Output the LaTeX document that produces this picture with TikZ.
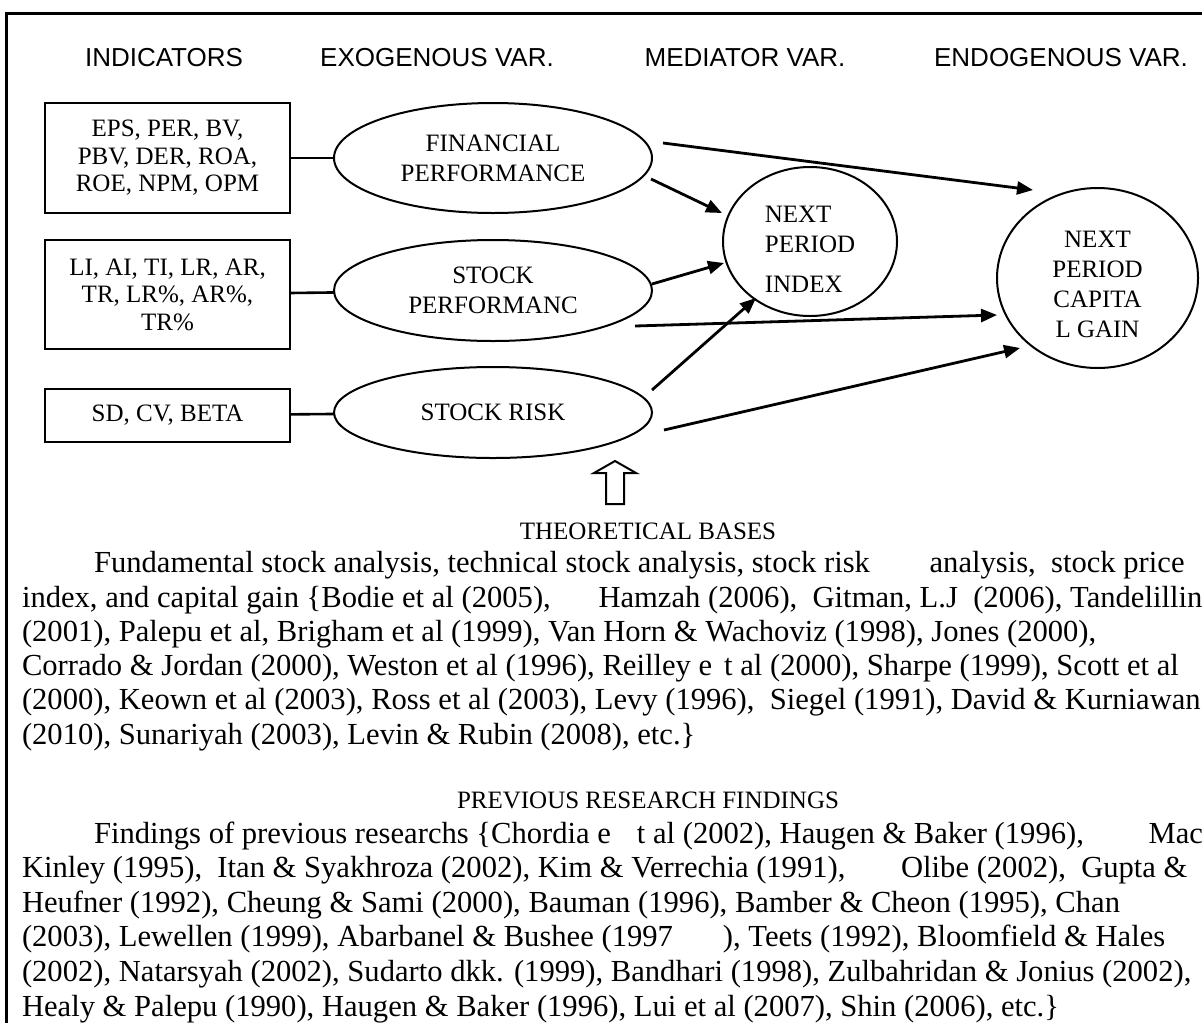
\documentclass[tikz,border=0pt]{standalone}
\usepackage{fontspec}
\setmainfont{Liberation Serif}
\newfontfamily\headfont{Liberation Sans}
\usetikzlibrary{shapes.geometric, arrows.meta, calc, positioning}

\begin{document}
\begin{tikzpicture}[x=0.5pt, y=-0.5pt, >={Triangle[length=8pt, width=6.5pt]},
    every node/.style={align=center, inner sep=0pt, outer sep=0pt},
    varhead/.style={font=\headfont\fontsize{13}{15}\selectfont},
    indbox/.style={draw, line width=1pt, minimum width=122.5pt,
        font=\fontsize{12.5}{13.75}\selectfont},
    varoval/.style={ellipse, draw, line width=1pt, minimum width=159pt,
        font=\fontsize{12.5}{15}\selectfont},
    target/.style={ellipse, draw, line width=1pt},
    inner/.style={font=\fontsize{12.5}{15}\selectfont, label distance=0pt},
    link/.style={line width=1.3pt},
    effect/.style={->, line width=1.4pt},
    sechead/.style={anchor=base, font=\fontsize{12.5}{14}\selectfont},
    para/.style={anchor=base west, font=\fontsize{15.3}{17}\selectfont}]

    \useasboundingbox (0,0) rectangle (1202,1023);
    \clip (0,0) rectangle (1202,1023);

    % outer frame (only top and left edge in view)
    \draw[line width=1.5pt] (6,1023) -- (6,13) -- (1202,13);

    % column heads
    \node[varhead] (hind) at (164,58) {INDICATORS};
    \node[varhead] (hexo) at (437,58) {EXOGENOUS VAR.};
    \node[varhead] (hmed) at (745,58) {MEDIATOR VAR.};
    \node[varhead] (hend) at (1061,58) {ENDOGENOUS VAR.};

    % indicators
    \node[indbox, minimum height=55pt] (ind1) at (167.5,158)
        {EPS, PER, BV,\\PBV, DER, ROA,\\ROE, NPM, OPM};
    \node[indbox, minimum height=54.5pt] (ind2) at (167.5,294.5)
        {LI, AI, TI, LR, AR,\\TR, LR\%, AR\%,\\TR\%};
    \node[indbox, minimum height=26.5pt] (ind3) at (167.5,415.5)
        {SD, CV, BETA};

    % exogenous variables
    \node[varoval, minimum height=55pt] (fin) at (493,158) {FINANCIAL\\PERFORMANCE};
    \node[varoval, minimum height=50.5pt] (perf) at (493,290.5) {STOCK\\PERFORMANC};
    \node[varoval, minimum height=45.5pt] (risk) at (493,412.5) {STOCK RISK};

    % mediator and endogenous variable
    \node[target, minimum width=87pt, minimum height=74.5pt,
        label={[inner, yshift=-4pt, align=left]center:{NEXT\\PERIOD\\[5pt]INDEX}}]
        (index) at (810,241.5) {};
    \node[target, minimum width=100.5pt, minimum height=90pt,
        label={[inner, yshift=-3pt]center:{NEXT\\PERIOD\\CAPITA\\L GAIN}}]
        (gain) at (1097.5,278) {};

    \foreach \a/\b in {ind1/fin, ind2/perf, ind3/risk}
        \draw[link] (\a) -- (\b);

    % paths: start offset from source, tip offset from target
    \foreach \s/\sx/\sy/\e/\ex/\ey in {fin.east/11/-15/gain/-64.5/-88,
            fin.east/-1/21/index/-88/-28.5,
            perf.east/0/-6.5/index/-86/21.5,
            perf.east/-17/35.5/gain/-100.5/37,
            risk.east/0/-22.5/index/-54/56.5,
            risk.east/12/17.5/gain/-77.5/70} {
        \draw[effect] ($(\s)+(\sx,\sy)$) -- ($(\e)+(\ex,\ey)$);
    }

    % hollow arrow up to the model
    \draw[line width=1pt] (606,504) -- (606,473) -- (594,473) -- (615,461)
        -- (636,473) -- (624,473) -- (624,504) -- cycle;

    % theoretical bases
    \node[sechead] (theory) at (648,539) {THEORETICAL BASES};
    \node[para] (t1) at (94,572.7) {Fundamental stock analysis, technical stock analysis, stock risk\hspace{26pt} analysis,\ \ stock price};
    \node[para] (t2) at (22,607) {index, and capital gain \{Bodie et al (2005),\hspace{20pt} Hamzah (2006),\ \ Gitman, L.J\ \ (2006), Tandelillin};
    \node[para] (t3) at (22,641.3) {(2001), Palepu et al, Brigham et al (1999), Van Horn \& Wachoviz (1998), Jones (2000),};
    \node[para] (t4) at (22,675.6) {Corrado \& Jordan (2000), Weston et al (1996), Reilley e\hspace{6pt}t al (2000), Sharpe (1999), Scott et al};
    \node[para] (t5) at (22,709.9) {(2000), Keown et al (2003), Ross et al (2003), Levy (1996),\ \ Siegel (1991), David \& Kurniawan};
    \node[para] (t6) at (22,744.2) {(2010), Sunariyah (2003), Levin \& Rubin (2008), etc.\}};

    % previous research findings
    \node[sechead] (previous) at (648,808) {PREVIOUS RESEARCH FINDINGS};
    \node[para] (p1) at (94,843) {Findings of previous researchs \{Chordia e\hspace{13pt}t al (2002), Haugen \& Baker (1996),\hspace{28.5pt} Mac};
    \node[para] (p2) at (22,877.6) {Kinley (1995),\ \ Itan \& Syakhroza (2002), Kim \& Verrechia (1991),\hspace{24pt} Olibe (2002),\ \ Gupta \&};
    \node[para] (p3) at (22,912.2) {Heufner (1992), Cheung \& Sami (2000), Bauman (1996), Bamber \& Cheon (1995), Chan};
    \node[para] (p4) at (22,946.8) {(2003), Lewellen (1999), Abarbanel \& Bushee (1997\hspace{25pt}), Teets (1992), Bloomfield \& Hales};
    \node[para] (p5) at (22,981.4) {(2002), Natarsyah (2002), Sudarto dkk. (1999), Bandhari (1998), Zulbahridan \& Jonius (2002),};
    \node[para] (p6) at (22,1016) {Healy \& Palepu (1990), Haugen \& Baker (1996), Lui et al (2007), Shin (2006), etc.\}};

\end{tikzpicture}
\end{document}
